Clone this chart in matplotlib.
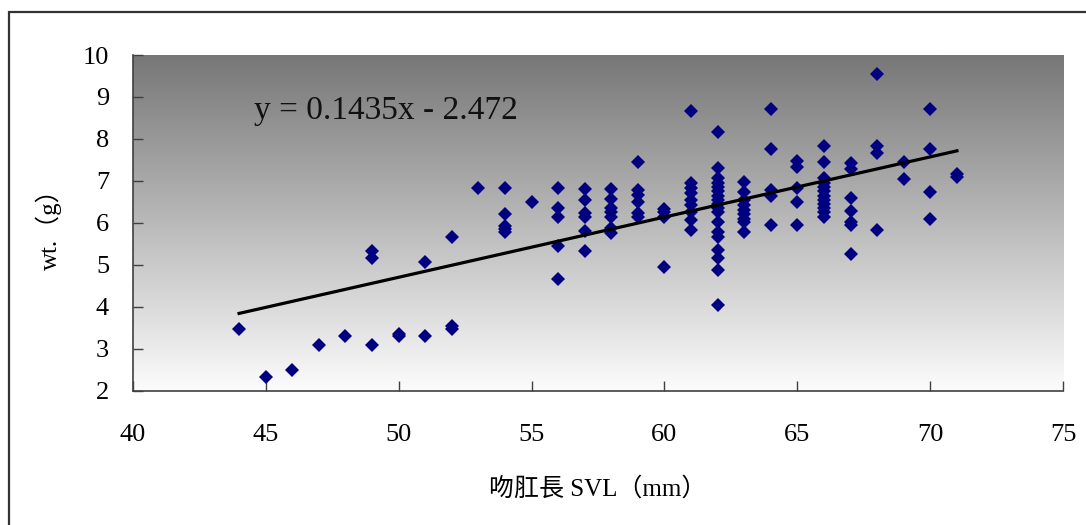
import numpy as np
import matplotlib
matplotlib.use('Agg')
import matplotlib.pyplot as plt
from matplotlib.colors import LinearSegmentedColormap
from matplotlib.patches import Rectangle

# SVL (mm) columns and the weights (g) read at each one
svl_values = [44, 45, 46, 47, 48, 49, 50, 51, 52, 53, 54, 55, 56, 57, 58, 59,
              60, 61, 62, 63, 64, 65, 66, 67, 68, 69, 70, 71]
wt_groups = [
    [3.46],
    [2.33],
    [2.49],
    [3.08],
    [3.30],
    [3.08, 5.16, 5.33],
    [3.30, 3.34],
    [3.30, 5.07],
    [3.46, 3.55, 5.67],
    [6.84],
    [6.84, 6.21, 5.92, 5.85, 5.79],
    [6.50],
    [6.84, 6.35, 6.15, 5.46, 4.66],
    [6.80, 6.54, 6.23, 6.15, 5.81, 5.34],
    [6.80, 6.57, 6.35, 6.25, 6.15, 5.87, 5.75],
    [7.46, 6.78, 6.66, 6.50, 6.23, 6.15],
    [6.32, 6.25, 6.15, 4.96],
    [8.67, 6.94, 6.82, 6.70, 6.54, 6.43, 6.27, 6.07, 5.83],
    [8.17, 7.30, 7.06, 6.95, 6.85, 6.75, 6.65, 6.55, 6.45, 6.35, 6.25,
     6.03, 5.79, 5.67, 5.35, 5.16, 4.88, 4.04],
    [6.98, 6.74, 6.54, 6.43, 6.30, 6.20, 6.10, 6.03, 5.79],
    [8.71, 7.75, 6.78, 6.65, 5.96],
    [7.48, 7.34, 6.84, 6.50, 5.96],
    [7.83, 7.46, 7.08, 6.95, 6.85, 6.75, 6.65, 6.55, 6.45, 6.35, 6.25, 6.13],
    [7.43, 7.28, 6.59, 6.29, 6.03, 5.95, 5.25],
    [9.54, 7.82, 7.66, 5.83],
    [7.46, 7.04],
    [8.71, 7.75, 6.74, 6.09],
    [7.17, 7.10],
]

# trend line from the chart
slope = 0.1435
intercept = -2.472
equation = 'y = 0.1435x - 2.472'

x_ticks = [40, 45, 50, 55, 60, 65, 70, 75]
y_ticks = [2, 3, 4, 5, 6, 7, 8, 9, 10]

svl = []
wt = []
for s, g in zip(svl_values, wt_groups):
    svl += [s] * len(g)
    wt += g

fig = plt.figure(figsize=(10.86, 5.25), dpi=100)
ax = fig.add_axes([0.1222, 0.2558, 0.8569, 0.6394])

# outer chart frame
fig.patches.append(Rectangle((9 / 1086, -0.05), 1.1, 1.05 - 12 / 525,
                             transform=fig.transFigure, fill=False,
                             edgecolor='#333333', linewidth=1.6))

# gray (top) to white (bottom) background
grad = np.linspace(0, 1, 256).reshape(-1, 1)
cmap = LinearSegmentedColormap.from_list('g', ['#777777', '#fcfcfc'])
ax.imshow(grad, cmap=cmap, aspect='auto', extent=[40, 75, 2, 10], zorder=0)

ax.plot(svl, wt, 'D', color='#000080', markersize=6.8, markeredgewidth=0, zorder=3)

xs = np.array([min(svl), max(svl)])
ax.plot(xs, slope * xs + intercept, color='black', linewidth=2.3, zorder=4)

ax.text(44.55, 8.67, equation, ha='left', va='center', fontsize=24,
        family='Liberation Serif', color='#111111')

ax.set_xlim(40, 75)
ax.set_ylim(2, 10)
ax.set_xticks(x_ticks)
ax.set_yticks(y_ticks)
for sp in ['top', 'right']:
    ax.spines[sp].set_visible(False)
for sp in ['left', 'bottom']:
    ax.spines[sp].set_color('#404040')
    ax.spines[sp].set_linewidth(1.2)
ax.tick_params(direction='in', length=7, width=1, color='#404040')
ax.tick_params(axis='x', pad=24)
ax.tick_params(axis='y', pad=17)
for lab in ax.get_xticklabels() + ax.get_yticklabels():
    lab.set_family('Liberation Serif')
    lab.set_fontsize(19)

fam = ['Liberation Serif', 'Noto Sans CJK TC']
ax.set_xlabel('吻肛長 SVL（mm）', family=fam, fontsize=18, labelpad=22)
ax.set_ylabel('wt.（g）', family=fam, fontsize=18, labelpad=15)

fig.savefig('out.png', dpi=100)
